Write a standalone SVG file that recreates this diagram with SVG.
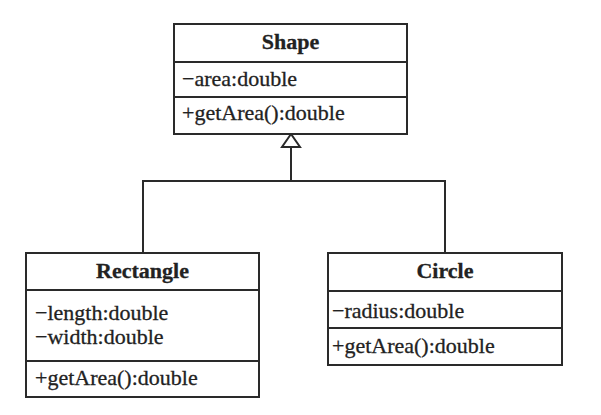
<svg xmlns="http://www.w3.org/2000/svg" width="601" height="415" viewBox="0 0 601 415">
<style>
.box{fill:#fff;stroke:#2a2a2a;stroke-width:2}
.div{stroke:#2a2a2a;stroke-width:2}
.t{font-family:"Liberation Serif","Times New Roman",serif;font-size:22px;fill:#222;stroke:#222;stroke-width:0.3}
.b{font-weight:bold;text-anchor:middle}
.c{fill:none;stroke:#2a2a2a;stroke-width:2}
</style>
<rect width="601" height="415" fill="#fff"/>
<g id="connectors">
<polyline class="c" points="143,253 143,181 445,181 445,253"/>
<line class="c" x1="291" y1="181" x2="291" y2="147"/>
<polygon class="c" points="291,134 282,147 300,147" fill="#fff"/>
</g>
<g id="Shape">
<rect class="box" x="174" y="24" width="233" height="110"/>
<line class="div" x1="174" y1="62" x2="407" y2="62"/>
<line class="div" x1="174" y1="97" x2="407" y2="97"/>
<text class="t b" x="290.5" y="49">Shape</text>
<text class="t" x="182" y="86">−area:double</text>
<text class="t" x="182" y="120">+getArea():double</text>
</g>
<g id="Rectangle">
<rect class="box" x="26" y="253" width="233" height="144"/>
<line class="div" x1="26" y1="290" x2="259" y2="290"/>
<line class="div" x1="26" y1="361" x2="259" y2="361"/>
<text class="t b" x="142.5" y="278">Rectangle</text>
<text class="t" x="35" y="320">−length:double</text>
<text class="t" x="35" y="344">−width:double</text>
<text class="t" x="35" y="385">+getArea():double</text>
</g>
<g id="Circle">
<rect class="box" x="328" y="253" width="234" height="112"/>
<line class="div" x1="328" y1="291" x2="562" y2="291"/>
<line class="div" x1="328" y1="328" x2="562" y2="328"/>
<text class="t b" x="445" y="278">Circle</text>
<text class="t" x="332" y="318">−radius:double</text>
<text class="t" x="332" y="353">+getArea():double</text>
</g>
</svg>
